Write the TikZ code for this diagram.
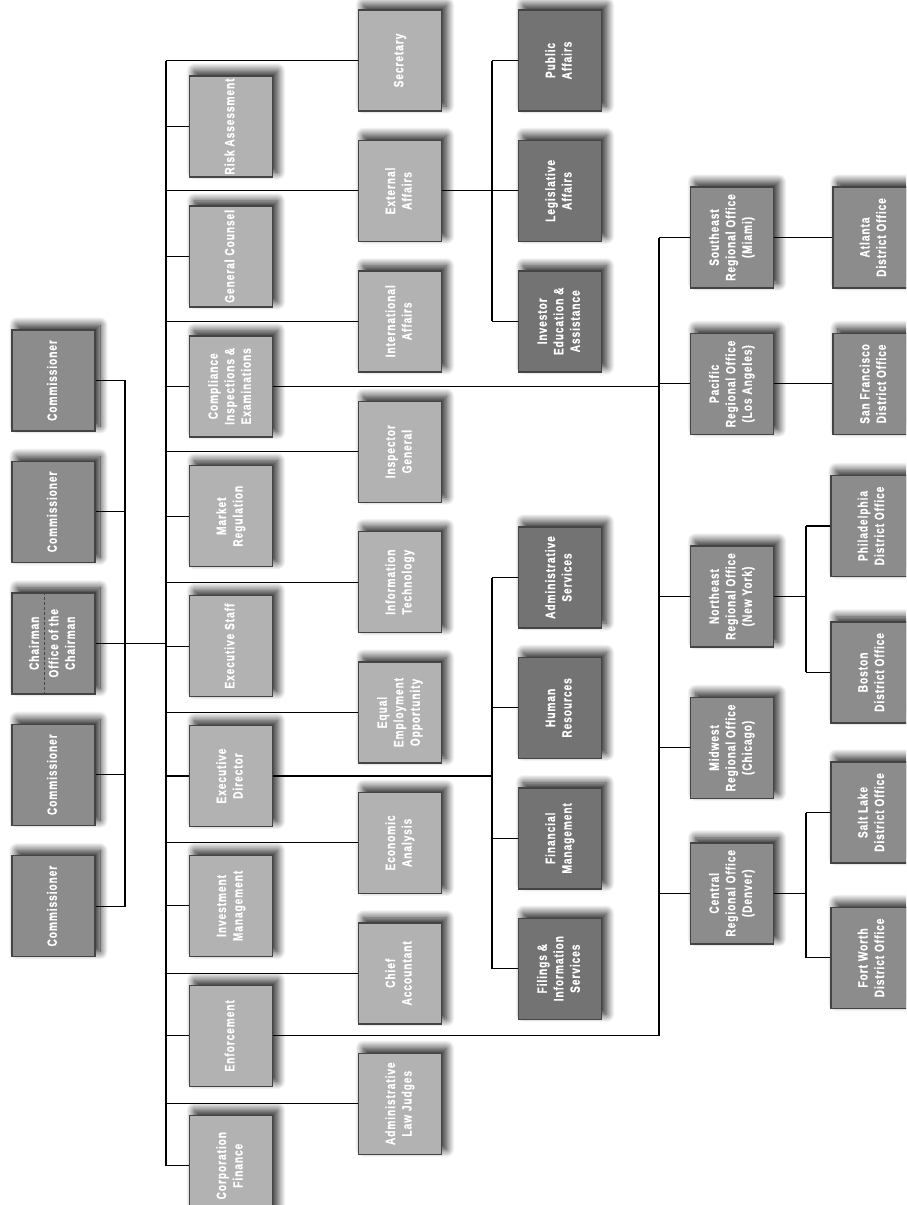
\documentclass[tikz,border=0pt]{standalone}
\usepackage{xcolor}
\usepackage{graphicx}
\usepackage{fontspec}
\usepackage{tikz}
\usetikzlibrary{positioning,calc,backgrounds,shadows.blur}
\newfontfamily\orgfont[FakeStretch=0.75,LetterSpace=7,FakeBold=0.6]{Liberation Sans}
\definecolor{secmid}{RGB}{140,140,140}
\definecolor{seclight}{RGB}{178,178,178}
\definecolor{secdark}{RGB}{115,115,115}
\definecolor{secline}{RGB}{68,68,68}
\newcommand{\vlabel}[1]{\rotatebox{90}{\begin{tabular}{@{}c@{}}#1\end{tabular}}}

\begin{document}
\begin{tikzpicture}[
    x=1pt, y=-1pt,
    node distance=27.5pt and 58pt,
    every node/.style={font=\orgfont\bfseries\fontsize{13.5}{16.5}\selectfont},
    box/.style={rectangle, draw=secline, line width=1.4pt, text=white,
                minimum width=83pt, minimum height=101pt, inner sep=0pt,
                blur shadow={shadow xshift=5pt, shadow yshift=5pt,
                             shadow blur radius=8pt, shadow blur steps=20,
                             shadow opacity=90}},
    comm/.style={box, fill=secmid},
    unit/.style={box, fill=seclight},
    office/.style={box, fill=secdark},
    region/.style={box, fill=secmid},
    link/.style={draw=black, line width=1.1pt},
    divider/.style={draw=secline, densely dashed, line width=0.8pt}
]
\useasboundingbox (0,0) rectangle (906,1205);
\clip (0,0) rectangle (906,1205);

% Commission
\node[comm] at (53.5,380.5)     (comm1) {\vlabel{Commissioner}};
\node[comm, below=29pt of comm1] (comm2) {\vlabel{Commissioner}};
\node[comm, below=29pt of comm2] (chair) {\vlabel{Chairman\\[3pt]Office of the\\Chairman}};
\node[comm, below=29pt of chair] (comm3) {\vlabel{Commissioner}};
\node[comm, below=29pt of comm3] (comm4) {\vlabel{Commissioner}};
\draw[divider] ($(chair.south west)+(33,0)$) -- ($(chair.north west)+(33,0)$);

% Divisions
\node[unit] at (231,126.5)        (risk)    {\vlabel{Risk Assessment}};
\node[unit, below=of risk]        (counsel) {\vlabel{General Counsel}};
\node[unit, below=of counsel]     (compl)   {\vlabel{Compliance\\Inspections \&\\Examinations}};
\node[unit, below=of compl]       (market)  {\vlabel{Market\\Regulation}};
\node[unit, below=of market]      (exstaff) {\vlabel{Executive Staff}};
\node[unit, below=of exstaff]     (exdir)   {\vlabel{Executive\\Director}};
\node[unit, below=of exdir]       (invest)  {\vlabel{Investment\\Management}};
\node[unit, below=of invest]      (enforce) {\vlabel{Enforcement}};
\node[unit, below=of enforce]     (corp)    {\vlabel{Corporation\\Finance}};

% Offices
\node[unit] at (400,60.5)           (sec)      {\vlabel{Secretary}};
\node[unit, below=28pt of sec]      (extaff)   {\vlabel{External\\Affairs}};
\node[unit, below=28pt of extaff]   (intaff)   {\vlabel{International\\Affairs}};
\node[unit, below=28pt of intaff]   (inspgen)  {\vlabel{Inspector\\General}};
\node[unit, below=28pt of inspgen]  (infotech) {\vlabel{Information\\Technology}};
\node[unit, below=28pt of infotech] (eeo)      {\vlabel{Equal\\Employment\\Opportunity}};
\node[unit, below=28pt of eeo]      (econ)     {\vlabel{Economic\\Analysis}};
\node[unit, below=28pt of econ]     (chiefacc) {\vlabel{Chief\\Accountant}};
\node[unit, below=28pt of chiefacc] (alj)      {\vlabel{Administrative\\Law Judges}};

% Sub offices
\node[office] at (560,60.5)         (pub) {\vlabel{Public\\Affairs}};
\node[office, below=28pt of pub]    (leg) {\vlabel{Legislative\\Affairs}};
\node[office, below=28pt of leg]    (inv) {\vlabel{Investor\\Education \&\\Assistance}};
\node[office] at (560,577.5)        (adm) {\vlabel{Administrative\\Services}};
\node[office, below=28pt of adm]    (hr)  {\vlabel{Human\\Resources}};
\node[office, below=28pt of hr]     (fin) {\vlabel{Financial\\Management}};
\node[office, below=28pt of fin]    (fil) {\vlabel{Filings \&\\Information\\Services}};

% Regional offices
\node[region] at (732,237.5)       (se)  {\vlabel{Southeast\\Regional Office\\(Miami)}};
\node[region, below=44pt of se]    (pac) {\vlabel{Pacific\\Regional Office\\(Los Angeles)}};
\node[region] at (732,596.5)       (ne)  {\vlabel{Northeast\\Regional Office\\(New York)}};
\node[region, below=49pt of ne]    (mw)  {\vlabel{Midwest\\Regional Office\\(Chicago)}};
\node[region, below=43pt of mw]    (cen) {\vlabel{Central\\Regional Office\\(Denver)}};

% District offices
\node[region, right=of se]          (atl)   {\vlabel{Atlanta\\District Office}};
\node[region, right=of pac]         (sf)    {\vlabel{San Francisco\\District Office}};
\node[region] at (872.5,526)        (phil)  {\vlabel{Philadelphia\\District Office}};
\node[region, below=44pt of phil]   (bos)   {\vlabel{Boston\\District Office}};
\node[region] at (872.5,812.5)      (salt)  {\vlabel{Salt Lake\\District Office}};
\node[region, below=43pt of salt]   (fort)  {\vlabel{Fort Worth\\District Office}};

% Bus positions
\coordinate (cbus) at (125,0);
\coordinate (mbus) at (166,0);
\coordinate (pbus) at (492,0);
\coordinate (rbus) at (659,0);
\coordinate (dbus) at (806,0);

\begin{scope}[on background layer]
% Lines commission
\draw[link] (comm1.east) -- (comm1.east -| cbus) -- (comm4.east -| cbus) -- (comm4.east);
\draw[link] (comm2.east) -- (comm2.east -| cbus);
\draw[link] (comm3.east) -- (comm3.east -| cbus);
\draw[link] (chair.east) -- (chair.east -| mbus);

% Lines divisions and offices
\draw[link] (sec.west -| mbus) -- (corp.west -| mbus);
\draw[link] (risk.west)     -- (risk.west -| mbus);
\draw[link] (counsel.west)  -- (counsel.west -| mbus);
\draw[link] (compl.west)    -- (compl.west -| mbus);
\draw[link] (market.west)   -- (market.west -| mbus);
\draw[link] (exstaff.west)  -- (exstaff.west -| mbus);
\draw[link] (exdir.west)    -- (exdir.west -| mbus);
\draw[link] (invest.west)   -- (invest.west -| mbus);
\draw[link] (enforce.west)  -- (enforce.west -| mbus);
\draw[link] (corp.west)     -- (corp.west -| mbus);
\draw[link] (sec.west)      -- (sec.west -| mbus);
\draw[link] (extaff.west)   -- (extaff.west -| mbus);
\draw[link] (intaff.west)   -- (intaff.west -| mbus);
\draw[link] (inspgen.west)  -- (inspgen.west -| mbus);
\draw[link] (infotech.west) -- (infotech.west -| mbus);
\draw[link] (eeo.west)      -- (eeo.west -| mbus);
\draw[link] (econ.west)     -- (econ.west -| mbus);
\draw[link] (chiefacc.west) -- (chiefacc.west -| mbus);
\draw[link] (alj.west)      -- (alj.west -| mbus);

% Lines sub offices
\draw[link] (extaff.east) -- (extaff.east -| pbus);
\draw[link] (pub.west -| pbus) -- (inv.west -| pbus);
\draw[link] (pub.west) -- (pub.west -| pbus);
\draw[link] (leg.west) -- (leg.west -| pbus);
\draw[link] (inv.west) -- (inv.west -| pbus);
\draw[link] (exdir.east) -- (exdir.east -| pbus);
\draw[link] (adm.west -| pbus) -- (fil.west -| pbus);
\draw[link] (adm.west) -- (adm.west -| pbus);
\draw[link] (hr.west)  -- (hr.west -| pbus);
\draw[link] (fin.west) -- (fin.west -| pbus);
\draw[link] (fil.west) -- (fil.west -| pbus);

% Lines regions
\draw[link] (compl.east) -- (compl.east -| rbus);
\draw[link] (enforce.east) -- (enforce.east -| rbus) -- (se.west -| rbus);
\draw[link] (se.west)  -- (se.west -| rbus);
\draw[link] (pac.west) -- (pac.west -| rbus);
\draw[link] (ne.west)  -- (ne.west -| rbus);
\draw[link] (mw.west)  -- (mw.west -| rbus);
\draw[link] (cen.west) -- (cen.west -| rbus);

% Lines districts
\draw[link] (se.east)  -- (atl.west);
\draw[link] (pac.east) -- (sf.west);
\draw[link] (ne.east) -- (ne.east -| dbus);
\draw[link] (phil.west -| dbus) -- (bos.west -| dbus);
\draw[link] (phil.west) -- (phil.west -| dbus);
\draw[link] (bos.west)  -- (bos.west -| dbus);
\draw[link] (cen.east) -- (cen.east -| dbus);
\draw[link] (salt.west -| dbus) -- (fort.west -| dbus);
\draw[link] (salt.west) -- (salt.west -| dbus);
\draw[link] (fort.west) -- (fort.west -| dbus);
\end{scope}

\end{tikzpicture}
\end{document}
